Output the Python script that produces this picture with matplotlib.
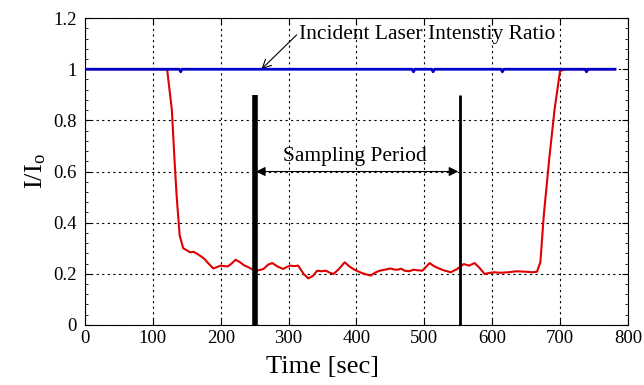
import matplotlib
matplotlib.use("Agg")
import matplotlib.pyplot as plt
from matplotlib.ticker import MultipleLocator

# Transmitted intensity ratio (red)
time_red = [0, 60, 121, 128, 131.6, 135, 139.5, 144.7, 150, 155, 160, 166, 171, 176, 182, 189, 194, 200, 205, 210.5,
            216, 222, 228, 234, 242, 250, 256, 263, 270, 276, 284, 292, 297, 302.6, 308, 314, 322, 329, 336, 342, 348, 355, 360, 366, 374, 382.6,
            390, 397, 402, 408, 414, 421, 427, 434, 442, 450, 455, 460.5, 466, 471, 478, 484, 490, 497, 502, 508, 513, 518, 528, 539, 548, 558,
            566, 574, 581, 589, 595, 602.6, 612, 623.7, 636, 650, 660, 666, 671, 676, 684, 692, 700, 708, 781]
ratio_red = [1.0, 1.0, 1.0, 0.84, 0.66, 0.505, 0.35, 0.30, 0.292, 0.284, 0.286, 0.277, 0.268, 0.258, 0.24, 0.221, 0.226, 0.232, 0.23, 0.229,
             0.24, 0.255, 0.246, 0.234, 0.224, 0.212, 0.214, 0.219, 0.236, 0.242, 0.228, 0.219, 0.226, 0.232, 0.23, 0.232, 0.2, 0.182, 0.192, 0.212, 0.21, 0.212, 0.205, 0.199, 0.218, 0.245,
             0.228, 0.216, 0.21, 0.203, 0.198, 0.193, 0.204, 0.212, 0.216, 0.221, 0.217, 0.216, 0.22, 0.212, 0.21, 0.216, 0.214, 0.212, 0.226, 0.242, 0.232, 0.225, 0.214, 0.206, 0.218, 0.238,
             0.232, 0.242, 0.224, 0.199, 0.203, 0.206, 0.204, 0.206, 0.21, 0.208, 0.206, 0.208, 0.245, 0.427, 0.648, 0.844, 0.993, 1.0, 1.0]

# Incident laser intensity ratio (blue)
time_blue = [0, 139, 141, 143, 482, 484, 486, 511, 513, 515, 613, 615, 617, 737, 739, 741, 781]
ratio_blue = [1.0, 1.0, 0.99, 1.0, 1.0, 0.99, 1.0, 1.0, 0.99, 1.0, 1.0, 0.99, 1.0, 1.0, 0.99, 1.0, 1.0]

sampling_start = 250
sampling_end = 552
marker_top = 0.9

x_ticks = [0, 100, 200, 300, 400, 500, 600, 700, 800]
y_ticks = [0, 0.2, 0.4, 0.6, 0.8, 1.0, 1.2]
y_ticklabels = ["0", "0.2", "0.4", "0.6", "0.8", "1", "1.2"]

plt.rcParams['font.family'] = ['Liberation Serif', 'DejaVu Serif']
plt.rcParams['mathtext.fontset'] = 'stix'

fig = plt.figure(figsize=(6.44, 3.85), dpi=100)
ax = fig.add_axes([0.132, 0.156, 0.843, 0.797])

ax.plot(time_red, ratio_red, color='#e00000', lw=1.5, zorder=3)
ax.plot(time_blue, ratio_blue, color='#0000cc', lw=2.0, zorder=4)

ax.plot([sampling_start, sampling_start], [0, marker_top], color='black', lw=4, zorder=5,
        solid_capstyle='butt')
ax.plot([sampling_end, sampling_end], [0, marker_top], color='black', lw=2, zorder=5,
        solid_capstyle='butt')

ax.annotate('', xy=(sampling_start + 2, 0.6), xytext=(sampling_end - 2, 0.6),
            arrowprops=dict(arrowstyle='<|-|>', color='black', lw=0.8,
                            mutation_scale=14, shrinkA=0, shrinkB=0), zorder=6)
ax.text(398, 0.66, 'Sampling Period', ha='center', va='center', fontsize=15.5)

ax.annotate('Incident Laser Intenstiy Ratio', xy=(260, 1.0), xytext=(316, 1.134),
            ha='left', va='center', fontsize=15.5,
            arrowprops=dict(arrowstyle='->', color='black', lw=0.8,
                            shrinkA=0, shrinkB=0, relpos=(0.0, 0.65)))

ax.set_xlim(0, 800)
ax.set_ylim(0, 1.2)
ax.set_xticks(x_ticks)
ax.set_yticks(y_ticks)
ax.set_yticklabels(y_ticklabels)
ax.yaxis.set_minor_locator(MultipleLocator(0.04))
ax.tick_params(direction='in', top=True, right=True, labelsize=13.5, length=4)
ax.tick_params(which='minor', direction='in', left=True, right=True, length=2)
ax.tick_params(axis='y', pad=6)
ax.grid(True, color='black', linestyle=(0, (2, 3)), linewidth=0.8)
ax.set_axisbelow(True)

ax.set_xlabel('Time [sec]', fontsize=19)
ax.xaxis.set_label_coords(0.437, -0.1)
ax.xaxis.label.set_va('top')
ax.set_ylabel(r'I/I$_\mathregular{o}$', fontsize=19, labelpad=4)

fig.savefig('out.png', dpi=100)
